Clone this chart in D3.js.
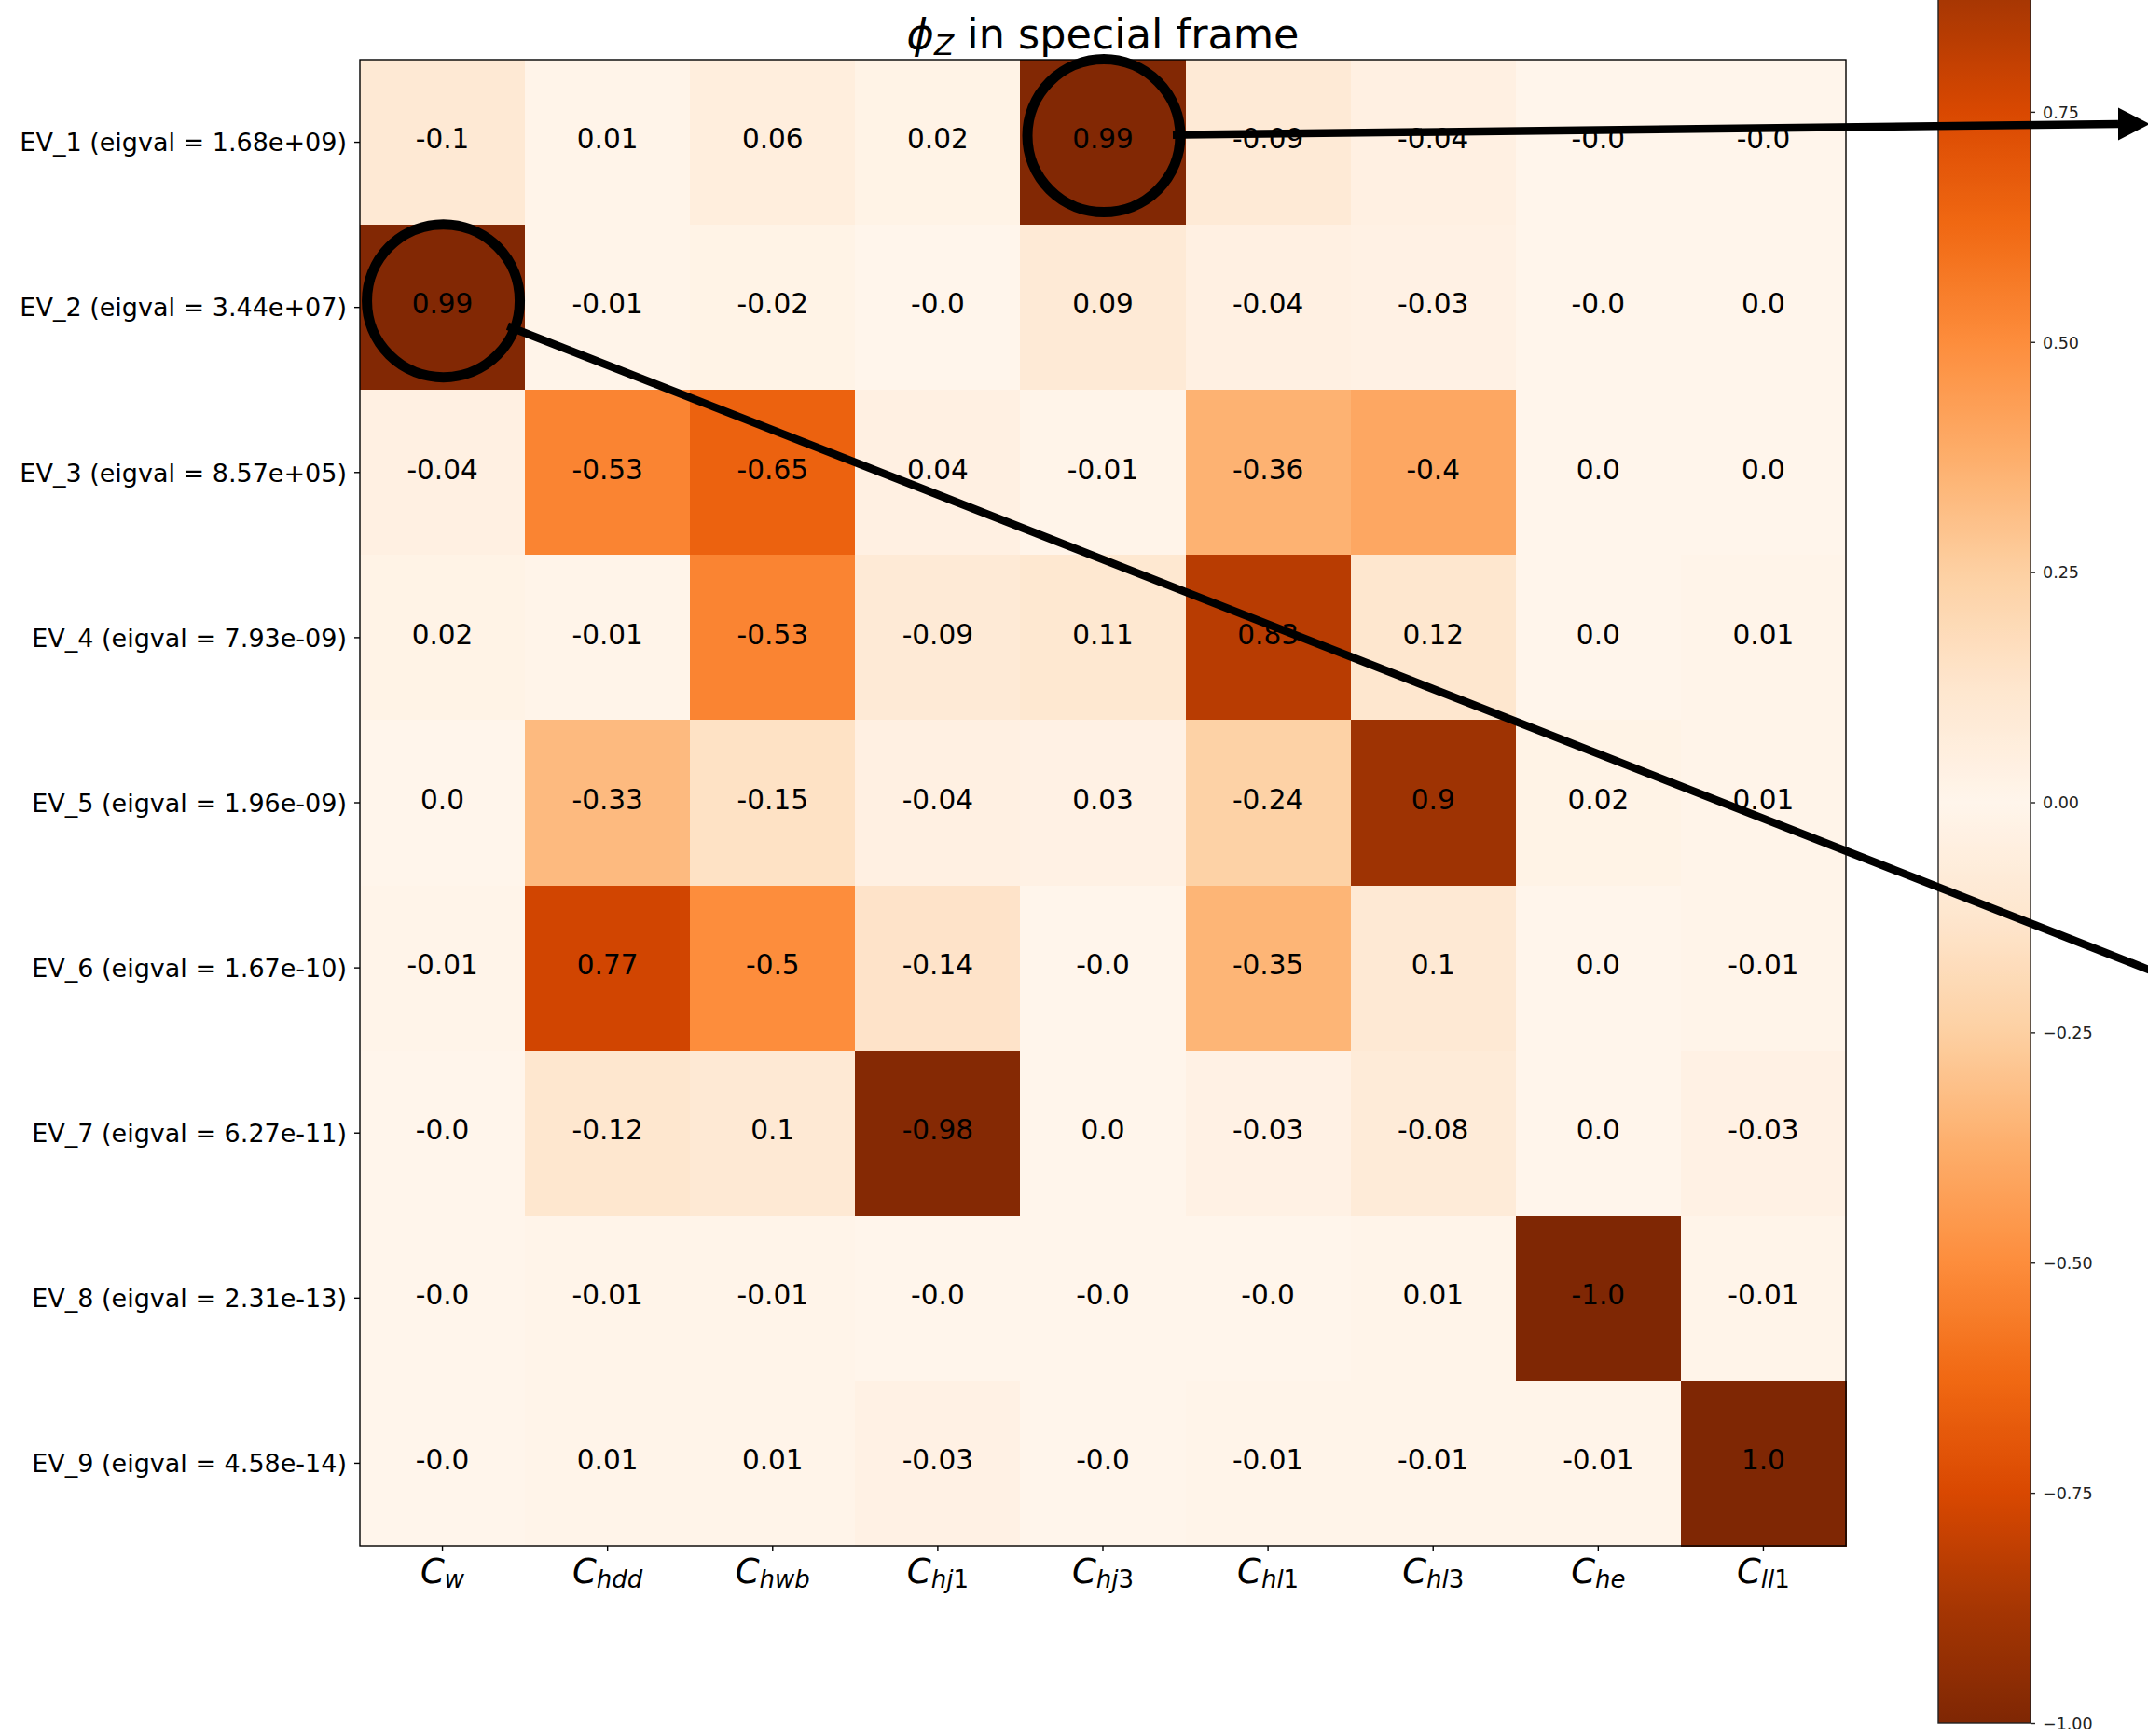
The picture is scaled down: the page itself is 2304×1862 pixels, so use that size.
<!DOCTYPE html>
<html>
<head>
<meta charset="utf-8">
<script src="https://cdn.jsdelivr.net/npm/d3@7"></script>
<style>
  html, body { margin: 0; padding: 0; background: #fff; }
  svg { display: block; font-family: "DejaVu Sans", sans-serif; }
</style>
</head>
<body>
<svg id="chart" width="2304" height="1862"></svg>
<script>
// Eigenvector components of phi_Z, one row per eigenvector (-0 keeps the printed sign)
const eigenvectors = ["EV_1", "EV_2", "EV_3", "EV_4", "EV_5", "EV_6", "EV_7", "EV_8", "EV_9"];
const eigenvalues = ["1.68e+09", "3.44e+07", "8.57e+05", "7.93e-09", "1.96e-09", "1.67e-10", "6.27e-11", "2.31e-13", "4.58e-14"];
const coefficients = ["C_w", "C_hdd", "C_hwb", "C_hj1", "C_hj3", "C_hl1", "C_hl3", "C_he", "C_ll1"];

const ev1 = [-0.1, 0.01, 0.06, 0.02, 0.99, -0.09, -0.04, -0, -0];
const ev2 = [0.99, -0.01, -0.02, -0, 0.09, -0.04, -0.03, -0, 0];
const ev3 = [-0.04, -0.53, -0.65, 0.04, -0.01, -0.36, -0.4, 0, 0];
const ev4 = [0.02, -0.01, -0.53, -0.09, 0.11, 0.83, 0.12, 0, 0.01];
const ev5 = [0, -0.33, -0.15, -0.04, 0.03, -0.24, 0.9, 0.02, 0.01];
const ev6 = [-0.01, 0.77, -0.5, -0.14, -0, -0.35, 0.1, 0, -0.01];
const ev7 = [-0, -0.12, 0.1, -0.98, 0, -0.03, -0.08, 0, -0.03];
const ev8 = [-0, -0.01, -0.01, -0, -0, -0, 0.01, -1.0, -0.01];
const ev9 = [-0, 0.01, 0.01, -0.03, -0, -0.01, -0.01, -0.01, 1.0];
const components = [ev1, ev2, ev3, ev4, ev5, ev6, ev7, ev8, ev9];

const colorbarTicks = [0.75, 0.5, 0.25, 0, -0.25, -0.5, -0.75, -1.0];

// Highlighted cells: [row, column] and where each pointer leaves the figure
const highlights = [
  { row: 0, col: 4, to: [2272, 133], head: true },
  { row: 1, col: 0, to: [2320, 1046], head: false }
];

// Oranges ramp, applied to the magnitude of each component
const orangeStops = ["#fff5eb", "#fee6ce", "#fdd0a2", "#fdae6b", "#fd8d3c", "#f16913", "#d94801", "#a63603", "#7f2704"];
const ramp = d3.scaleLinear()
  .domain(d3.range(orangeStops.length).map(i => i / (orangeStops.length - 1)))
  .range(orangeStops)
  .interpolate(d3.interpolateRgb)
  .clamp(true);
const colorOf = v => ramp(Math.abs(v));

// Python-style number text: 0.9 -> "0.9", 1 -> "1.0", -0 -> "-0.0"
function fmt(v) {
  let s = String(Math.abs(v));
  if (s.indexOf(".") < 0) s += ".0";
  return (v < 0 || Object.is(v, -0)) ? "-" + s : s;
}

const svg = d3.select("#chart");
const FONT = "DejaVu Sans";

const plotLeft = 386, plotTop = 64, plotSize = 1594;
const x = d3.scaleBand().domain(d3.range(coefficients.length)).range([plotLeft, plotLeft + plotSize]);
const y = d3.scaleBand().domain(d3.range(eigenvectors.length)).range([plotTop, plotTop + plotSize]);

// Heatmap cells
const cells = components.flatMap((row, r) => row.map((v, c) => ({ r, c, v })));
svg.append("g").selectAll("rect").data(cells).join("rect")
  .attr("x", d => x(d.c))
  .attr("y", d => y(d.r))
  .attr("width", x.bandwidth() + 0.5)
  .attr("height", y.bandwidth() + 0.5)
  .attr("fill", d => colorOf(d.v))
  .attr("shape-rendering", "crispEdges");

// Cell annotations
svg.append("g").selectAll("text").data(cells).join("text")
  .attr("x", d => x(d.c) + x.bandwidth() / 2)
  .attr("y", d => y(d.r) + y.bandwidth() / 2 + 6.8)
  .attr("text-anchor", "middle")
  .attr("font-family", FONT)
  .attr("font-size", 29.5)
  .attr("fill", "#000")
  .text(d => fmt(d.v));

// Frame
svg.append("rect")
  .attr("x", plotLeft).attr("y", plotTop).attr("width", plotSize).attr("height", plotSize)
  .attr("fill", "none").attr("stroke", "#000").attr("stroke-width", 1.4);

// Left axis: eigenvector labels
const yAxis = d3.axisLeft(d3.scaleBand().domain(eigenvectors).range([plotTop, plotTop + plotSize]))
  .tickSize(6).tickPadding(8)
  .tickFormat((d, i) => `${d} (eigval = ${eigenvalues[i]})`);
const gy = svg.append("g").attr("transform", `translate(${plotLeft},0)`).call(yAxis);
gy.select(".domain").remove();
gy.selectAll(".tick line").attr("stroke", "#000").attr("stroke-width", 1.4);
gy.selectAll(".tick text")
  .attr("font-family", FONT).attr("font-size", 27).attr("fill", "#000")
  .attr("dy", null).attr("y", 9.8);

// Bottom axis: Wilson coefficient labels (italic C with subscript)
const xAxis = d3.axisBottom(d3.scaleBand().domain(coefficients).range([plotLeft, plotLeft + plotSize]))
  .tickSize(6).tickFormat("");
const gx = svg.append("g").attr("transform", `translate(0,${plotTop + plotSize})`).call(xAxis);
gx.select(".domain").remove();
gx.selectAll(".tick line").attr("stroke", "#000").attr("stroke-width", 1.4);
gx.selectAll(".tick text").remove();
gx.selectAll(".tick").each(function (d) {
  const [base, sub] = d.split("_");
  const t = d3.select(this).append("text")
    .attr("y", 40).attr("text-anchor", "middle")
    .attr("font-family", FONT).attr("font-size", 37).attr("fill", "#000");
  t.append("tspan").attr("font-style", "italic").text(base);
  const letters = sub.replace(/[0-9]/g, "");
  const digits = sub.replace(/[^0-9]/g, "");
  t.append("tspan").attr("font-style", "italic").attr("font-size", 26).attr("dy", 5).text(letters);
  if (digits) t.append("tspan").attr("font-size", 26).text(digits);
});

// Title
const title = svg.append("text")
  .attr("x", plotLeft + plotSize / 2).attr("y", 52).attr("text-anchor", "middle")
  .attr("font-family", FONT).attr("font-size", 44.5).attr("fill", "#000");
title.append("tspan").attr("font-style", "italic").text("\u03D5");
title.append("tspan").attr("font-style", "italic").attr("font-size", 31).attr("dy", 7).text("Z");
title.append("tspan").attr("dy", -7).text(" in special frame");

// Colorbar
const cbLeft = 2079, cbWidth = 99;
const cbScale = d3.scaleLinear().domain([-1, 1]).range([1848, -127]);
const defs = svg.append("defs");
const grad = defs.append("linearGradient").attr("id", "cbGrad")
  .attr("x1", 0).attr("y1", 1).attr("x2", 0).attr("y2", 0);
d3.range(0, 201).forEach(i => {
  const v = -1 + i / 100;
  grad.append("stop").attr("offset", i / 200).attr("stop-color", colorOf(v));
});
svg.append("rect")
  .attr("x", cbLeft).attr("y", cbScale(1)).attr("width", cbWidth)
  .attr("height", cbScale(-1) - cbScale(1))
  .attr("fill", "url(#cbGrad)")
  .attr("stroke", "#222").attr("stroke-width", 1.4);

const cbAxis = d3.axisRight(cbScale).tickValues(colorbarTicks).tickSize(5).tickPadding(8)
  .tickFormat(v => d3.format(".2f")(v).replace("-", "\u2212"));
const gc = svg.append("g").attr("transform", `translate(${cbLeft + cbWidth},0)`).call(cbAxis);
gc.select(".domain").remove();
gc.selectAll(".tick line").attr("stroke", "#222").attr("stroke-width", 1.4);
gc.selectAll(".tick text")
  .attr("font-family", FONT).attr("font-size", 17.5).attr("fill", "#222")
  .attr("dy", null).attr("y", 6.3);

// Highlight rings and pointers
const R = 82;
const marks = svg.append("g");
highlights.forEach(h => {
  const cx = x(h.col) + x.bandwidth() / 2 + 1;
  const cy = y(h.row) + y.bandwidth() / 2 - 7;
  marks.append("circle").attr("cx", cx).attr("cy", cy).attr("r", R)
    .attr("fill", "none").attr("stroke", "#000").attr("stroke-width", 11);
  const ang = Math.atan2(h.to[1] - cy, h.to[0] - cx);
  const sx = cx + (R - 8) * Math.cos(ang), sy = cy + (R - 8) * Math.sin(ang);
  marks.append("line")
    .attr("x1", sx).attr("y1", sy).attr("x2", h.to[0]).attr("y2", h.to[1])
    .attr("stroke", "#000").attr("stroke-width", 8.5);
  if (h.head) {
    const [tx, ty] = h.to;
    marks.append("path")
      .attr("d", d3.line()([[tx, ty - 17.5], [tx + 34, ty], [tx, ty + 17.5]]) + "Z")
      .attr("fill", "#000");
  }
});
</script>
</body>
</html>
